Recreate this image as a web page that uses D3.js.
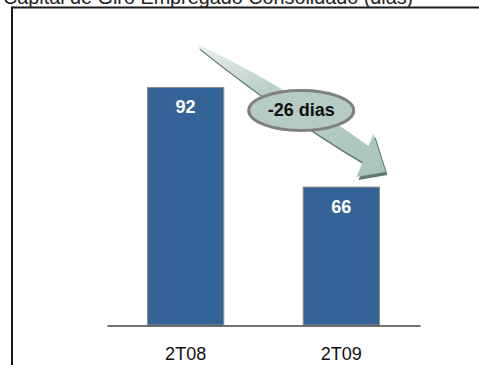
<!DOCTYPE html>
<html>
<head>
<meta charset="utf-8">
<script src="https://cdn.jsdelivr.net/npm/d3@7"></script>
<style>
  html, body { margin: 0; padding: 0; background: #fff; }
  svg { display: block; }
</style>
</head>
<body>
<svg id="chart" width="479" height="365"></svg>
<script>
const title = "Capital de Giro Empregado Consolidado (dias)";
const categories = ["2T08", "2T09"];
const values = [92, 66];
const valueLabels = ["92", "66"];
const deltaUnit = "dias";

const svg = d3.select("#chart");
const W = 479, H = 365;

// frame
svg.append("rect")
  .attr("x", 12).attr("y", 7.5)
  .attr("width", W + 10).attr("height", H + 10)
  .attr("fill", "none").attr("stroke", "#1a1a1a").attr("stroke-width", 2);

// title (cut at top, as in the source)
svg.append("text")
  .attr("x", 3).attr("y", 3.5)
  .attr("font-family", "Liberation Sans, Arial, sans-serif")
  .attr("font-size", 19.8).attr("fill", "#222")
  .text(title);

const x = d3.scaleBand().domain(categories).range([107, 420])
  .paddingInner(0.51).paddingOuter(0.26);
const y = d3.scaleLinear().domain([30, 107]).range([325, 30]);
const bw = x.bandwidth();

// bars
svg.selectAll("rect.bar").data(values).enter().append("rect")
  .attr("class", "bar")
  .attr("x", (d, i) => x(categories[i]))
  .attr("y", d => y(d))
  .attr("width", bw)
  .attr("height", d => y(30) - y(d))
  .attr("fill", "#346497")
  .attr("stroke", "#8c8c8c").attr("stroke-width", 1);

// value labels
svg.selectAll("text.val").data(values).enter().append("text")
  .attr("class", "val")
  .attr("x", (d, i) => x(categories[i]) + bw / 2)
  .attr("y", d => y(d) + 26)
  .attr("text-anchor", "middle")
  .attr("font-family", "Liberation Sans, Arial, sans-serif")
  .attr("font-weight", "bold").attr("font-size", 18)
  .attr("fill", "#fff")
  .text((d, i) => valueLabels[i]);

// baseline axis
const xAxis = d3.axisBottom(x).tickSize(0).tickPadding(22);
const ax = svg.append("g").attr("transform", `translate(0,${y(30) + 0.5})`).call(xAxis);
ax.select(".domain").attr("stroke", "#444").attr("stroke-width", 1.3);
ax.selectAll("text")
  .attr("font-family", "Liberation Sans, Arial, sans-serif")
  .attr("font-size", 18).attr("fill", "#111");

// curved arrow from bar 1 to bar 2
const A = [x(categories[0]) + bw / 2, y(values[0])];
const B = [x(categories[1]) + bw, y(values[1])];
const p = (P, dx, dy) => `${P[0] + dx},${P[1] + dy}`;
const arrowPath =
  `M${p(A, 11, -44)} Q${p(A, 104, 1)} ${p(B, -11, -41)} L${p(B, -6, -53)} L${p(B, 6, -15)} ` +
  `L${p(B, -23, -10)} L${p(B, -17, -25)} Q${p(A, 94, 25)} ${p(A, 13, -40)} Z`;

const defs = svg.append("defs");
const grad = defs.append("linearGradient").attr("id", "ag")
  .attr("x1", "0%").attr("y1", "0%").attr("x2", "100%").attr("y2", "100%");
grad.append("stop").attr("offset", "0%").attr("stop-color", "#eef3f2");
grad.append("stop").attr("offset", "35%").attr("stop-color", "#bcd0cb");
grad.append("stop").attr("offset", "100%").attr("stop-color", "#a9c3bc");

svg.append("path").attr("d", arrowPath)
  .attr("transform", "translate(2,3)")
  .attr("fill", "#5e7872");
svg.append("path").attr("d", arrowPath)
  .attr("fill", "url(#ag)");

// ellipse annotation
const cx = x(categories[1]) - 2, cy = y(values[0]) + 23;
svg.append("ellipse")
  .attr("cx", cx).attr("cy", cy).attr("rx", 52.5).attr("ry", 20)
  .attr("fill", "#b6cbc5").attr("stroke", "#808080").attr("stroke-width", 3);
svg.append("text")
  .attr("x", cx).attr("y", cy + 6)
  .attr("text-anchor", "middle")
  .attr("font-family", "Liberation Sans, Arial, sans-serif")
  .attr("font-weight", "bold").attr("font-size", 18).attr("fill", "#111")
  .text(`${values[1] - values[0]} ${deltaUnit}`);
</script>
</body>
</html>
